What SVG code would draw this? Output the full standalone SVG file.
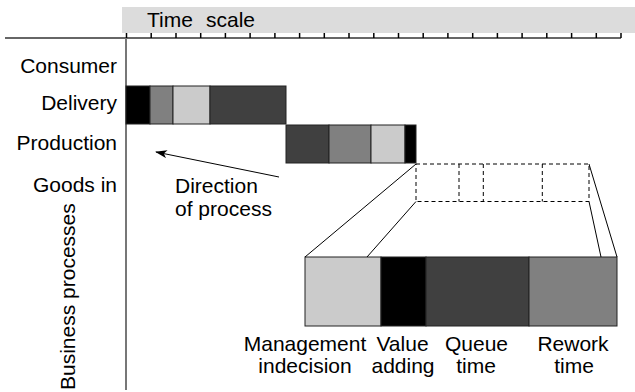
<svg xmlns="http://www.w3.org/2000/svg" width="635" height="392" viewBox="0 0 635 392">
<style>
text{font-family:"Liberation Sans",Arial,Helvetica,sans-serif;font-size:21px;fill:#000}
.lbl{text-anchor:end}
.mid{text-anchor:middle}
.seg{stroke:#222;stroke-width:1}
.k{fill:#000}.g{fill:#808080}.l{fill:#cbcbcb}.d{fill:#404040}
.tick{stroke:#000;stroke-width:1.5}
.dash{fill:none;stroke:#000;stroke-width:1;stroke-dasharray:4,3}
.ln{stroke:#000;stroke-width:1;fill:none}
</style>
<defs>
<marker id="ah" viewBox="0 0 12 8" refX="11" refY="4" markerWidth="12" markerHeight="8" markerUnits="userSpaceOnUse" orient="auto">
<path d="M0,0 L12,4 L0,8 L3,4 Z" fill="#000"/>
</marker>
</defs>
<g id="timescale">
<rect x="122" y="7" width="513" height="26" fill="#dcdcdc"/>
<text x="147" y="27">Time</text>
<text x="206" y="27">scale</text>
<line x1="5" y1="38" x2="621" y2="38" stroke="#333" stroke-width="1.5"/>
<g class="tick">
<line x1="126.5" y1="33" x2="126.5" y2="38"/><line x1="151.2" y1="33" x2="151.2" y2="38"/><line x1="176" y1="33" x2="176" y2="38"/><line x1="200.7" y1="33" x2="200.7" y2="38"/><line x1="225.4" y1="33" x2="225.4" y2="38"/><line x1="250.1" y1="33" x2="250.1" y2="38"/><line x1="274.9" y1="33" x2="274.9" y2="38"/><line x1="299.6" y1="33" x2="299.6" y2="38"/><line x1="324.3" y1="33" x2="324.3" y2="38"/><line x1="349" y1="33" x2="349" y2="38"/><line x1="373.8" y1="33" x2="373.8" y2="38"/><line x1="398.5" y1="33" x2="398.5" y2="38"/><line x1="423.2" y1="33" x2="423.2" y2="38"/><line x1="447.9" y1="33" x2="447.9" y2="38"/><line x1="472.7" y1="33" x2="472.7" y2="38"/><line x1="497.4" y1="33" x2="497.4" y2="38"/><line x1="522.1" y1="33" x2="522.1" y2="38"/><line x1="546.8" y1="33" x2="546.8" y2="38"/><line x1="571.6" y1="33" x2="571.6" y2="38"/><line x1="596.3" y1="33" x2="596.3" y2="38"/><line x1="621" y1="33" x2="621" y2="38"/>
</g>
</g>
<g id="axis">
<line x1="126" y1="38" x2="126" y2="390" stroke="#777" stroke-width="2"/>
<text transform="translate(75,390) rotate(-90)">Business processes</text>
</g>
<g id="row-labels">
<text class="lbl" x="117" y="73">Consumer</text>
<text class="lbl" x="117" y="110">Delivery</text>
<text class="lbl" x="117" y="150">Production</text>
<text class="lbl" x="117" y="192">Goods in</text>
</g>
<g id="delivery-bar" class="seg">
<rect class="k" x="126" y="86" width="24" height="38"/>
<rect class="g" x="150" y="86" width="23" height="38"/>
<rect class="l" x="173" y="86" width="37" height="38"/>
<rect class="d" x="210" y="86" width="76" height="38"/>
</g>
<g id="production-bar" class="seg">
<rect class="d" x="286" y="125" width="43" height="38"/>
<rect class="g" x="329" y="125" width="42" height="38"/>
<rect class="l" x="371" y="125" width="34" height="38"/>
<rect class="k" x="405" y="125" width="11" height="38"/>
</g>
<g id="goods-in-outline">
<rect class="dash" x="416" y="164" width="173" height="37.5"/>
<line class="dash" x1="459" y1="164" x2="459" y2="201.5"/>
<line class="dash" x1="483.3" y1="164" x2="483.3" y2="201.5"/>
<line class="dash" x1="542.3" y1="164" x2="542.3" y2="201.5"/>
</g>
<g id="direction-label">
<text x="175" y="193">Direction</text>
<text x="175" y="216">of process</text>
</g>
<g id="detail-bar" class="seg">
<rect class="l" x="305" y="257" width="76" height="69"/>
<rect class="k" x="381" y="257" width="45" height="69"/>
<rect class="d" x="426" y="257" width="103" height="69"/>
<rect class="g" x="529" y="257" width="88" height="69"/>
</g>
<g id="detail-labels">
<text class="mid" x="305" y="351">Management</text>
<text class="mid" x="305" y="373">indecision</text>
<text class="mid" x="402.5" y="351">Value</text>
<text class="mid" x="403" y="373">adding</text>
<text class="mid" x="476.5" y="351">Queue</text>
<text class="mid" x="476" y="373">time</text>
<text class="mid" x="573" y="351">Rework</text>
<text class="mid" x="574" y="373">time</text>
</g>
<g id="connectors">
<line class="ln" x1="279" y1="177" x2="156" y2="152" marker-end="url(#ah)"/>
<line class="ln" x1="416" y1="164" x2="305" y2="257"/>
<line class="ln" x1="416" y1="201.5" x2="367" y2="257"/>
<line class="ln" x1="589" y1="164" x2="617" y2="257"/>
<line class="ln" x1="589" y1="201.5" x2="601" y2="257"/>
</g>
</svg>
